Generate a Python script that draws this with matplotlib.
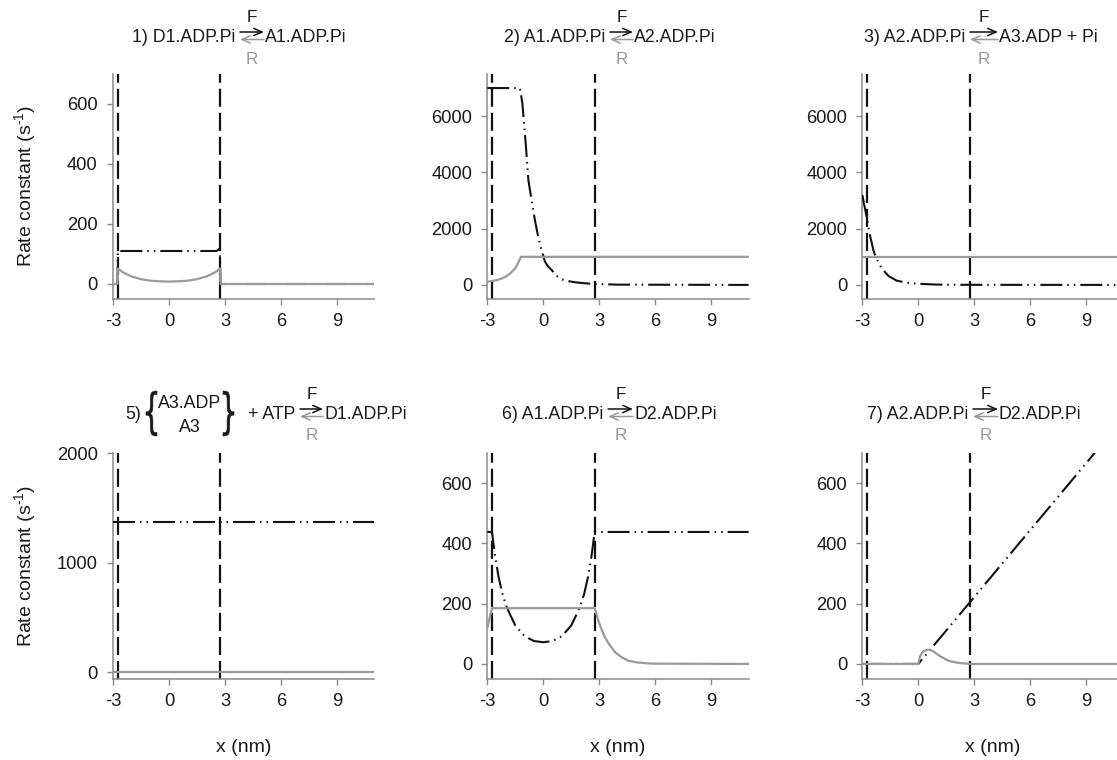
import matplotlib
matplotlib.use("Agg")
import matplotlib.pyplot as plt
from matplotlib.patches import FancyArrowPatch, PathPatch
from matplotlib.textpath import TextPath
from matplotlib.font_manager import FontProperties
from matplotlib.transforms import Affine2D, IdentityTransform

# ---------------------------------------------------------------------------
# Rate constants (s^-1) of forward (F) and reverse (R) transitions vs. x (nm)
# ---------------------------------------------------------------------------
x_limits = (-3, 11)
x_ticks = [-3, 0, 3, 6, 9]
binding_edges = [-2.75, 2.75]

# 1) D1.ADP.Pi <-> A1.ADP.Pi
r1_x_f = [-3, -2.76, -2.74, 2.55, 2.72, 2.76, 11]
r1_f = [0, 0, 110, 110, 118, 0, 0]
r1_x_r = [-3, -2.76, -2.74, -2.5, -2.25, -2.0, -1.5, -1.0, -0.5, 0,
          0.5, 1.0, 1.5, 2.0, 2.25, 2.5, 2.74, 2.76, 11]
r1_r = [0, 0, 52, 40, 32, 25, 16, 11, 9, 8,
        9, 11, 16, 25, 32, 40, 52, 0, 0]

# 2) A1.ADP.Pi <-> A2.ADP.Pi
r2_x_f = [-3, -1.25, -1.12, -0.95, -0.8, -0.6, -0.45, -0.3, -0.12, 0.09,
          0.25, 0.45, 0.7, 0.98, 1.3, 1.7, 2.2, 2.77, 4.0, 11]
r2_f = [7000, 7000, 6450, 5100, 3730, 2900, 2310, 1800, 1300, 830,
        660, 530, 330, 200, 140, 95, 60, 35, 10, 0]
r2_x_r = [-3, -2.75, -2.5, -2.25, -2.0, -1.75, -1.5, -1.35, -1.2, 11]
r2_r = [110, 140, 170, 220, 300, 420, 600, 780, 1000, 1000]

# 3) A2.ADP.Pi <-> A3.ADP + Pi
r3_x_f = [-3, -2.77, -2.6, -2.41, -2.29, -2.1, -1.96, -1.6, -1.16, -0.7,
          -0.35, 0.2, 0.7, 1.5, 11]
r3_f = [3200, 2425, 1800, 1245, 1005, 760, 590, 320, 153, 90,
        60, 35, 20, 5, 0]
r3_x_r = [-3, 11]
r3_r = [1000, 1000]

# 5) {A3.ADP, A3} + ATP <-> D1.ADP.Pi
r5_x_f = [-3, 11]
r5_f = [1370, 1370]
r5_x_r = [-3, 11]
r5_r = [0, 0]

# 6) A1.ADP.Pi <-> D2.ADP.Pi
r6_x_f = [-3, -2.75, -2.6, -2.4, -2.2, -2.0, -1.75, -1.5, -1.0, -0.5, 0,
          0.5, 1.0, 1.5, 1.75, 2.0, 2.2, 2.4, 2.6, 2.75, 11]
r6_f = [438, 438, 365, 290, 235, 195, 160, 128, 92, 76, 72,
        76, 92, 128, 160, 195, 235, 290, 365, 438, 438]
r6_x_r = [-3, -2.75, 2.75, 2.95, 3.1, 3.3, 3.5, 3.84, 4.2, 4.55, 5.0, 5.8, 11]
r6_r = [120, 185, 185, 144, 118, 89, 68, 39, 22, 11, 5, 1, 0]

# 7) A2.ADP.Pi <-> D2.ADP.Pi
r7_x_f = [-3, 0, 9.45]
r7_f = [0, 0, 700]
r7_x_r = [-3, 0, 0.1, 0.27, 0.45, 0.6, 0.8, 1.16, 1.45, 1.7, 2.2, 2.8, 11]
r7_r = [0, 0, 26, 42, 46, 47, 42, 26, 16, 9, 3, 0, 0]

# ---------------------------------------------------------------------------
W, H = 1117, 760
FONT = "Liberation Sans"
INK = "#1a1a1a"
BLACK = "#111111"
GREY = "#999999"
SPINE = "#8a8a8a"

plt.rcParams["font.family"] = [FONT, "DejaVu Sans"]
plt.rcParams["mathtext.fontset"] = "custom"
plt.rcParams["mathtext.rm"] = FONT
plt.rcParams["mathtext.it"] = FONT
plt.rcParams["mathtext.bf"] = FONT
plt.rcParams["lines.scale_dashes"] = False

fig = plt.figure(figsize=(W / 100, H / 100), dpi=100)
fig.patch.set_facecolor("white")

F_DASH = (0, (15.8, 3.6, 1.1, 3.6, 1.1, 3.6))
EDGE_DASH = (0, (13, 4.3))


def px_axes(left, top, width, height):
    return fig.add_axes([left / W, 1 - (top + height) / H, width / W, height / H])


def style_axes(ax, ylim, yticks):
    ax.set_xlim(*x_limits)
    ax.set_ylim(*ylim)
    ax.set_xticks(x_ticks)
    ax.set_xticklabels([str(t) for t in x_ticks])
    ax.set_yticks(yticks)
    ax.set_yticklabels([str(t) for t in yticks])
    for s in ("top", "right"):
        ax.spines[s].set_visible(False)
    for s in ("left", "bottom"):
        ax.spines[s].set_color(SPINE)
        ax.spines[s].set_linewidth(1.1)
    ax.tick_params(direction="out", length=4, width=1.0, color=SPINE,
                   labelsize=13.2, labelcolor=INK)
    ax.tick_params(axis="y", pad=7)
    ax.tick_params(axis="x", pad=6)
    ax.patch.set_alpha(0)


def draw_panel(ax, xf, f, xr, r):
    y0, y1 = ax.get_ylim()
    for xe in binding_edges:
        ax.plot([xe, xe], [y0, y1], color=BLACK, lw=1.6,
                linestyle=EDGE_DASH, zorder=2)
    ax.plot(xf, f, color=BLACK, lw=1.5, linestyle=F_DASH, zorder=3)
    ax.plot(xr, r, color=GREY, lw=1.6, zorder=4)


def fig_xy(x, y):
    return x / W, 1 - y / H


def arrow(x0, y0, x1, y1, color):
    a = FancyArrowPatch(fig_xy(x0, y0), fig_xy(x1, y1), transform=fig.transFigure,
                        arrowstyle="->,head_length=6,head_width=2.6",
                        mutation_scale=1, color=color, lw=1.1,
                        shrinkA=0, shrinkB=0)
    fig.add_artist(a)


def reaction(label_left, label_right, x0, x1, base):
    fs = 12.8
    fig.text(*fig_xy(x0 - 5, base), label_left, ha="right", va="baseline",
             fontsize=fs, color=INK)
    fig.text(*fig_xy(x1 + 1, base), label_right, ha="left", va="baseline",
             fontsize=fs, color=INK)
    arrow(x0, base - 10, x1, base - 10, BLACK)
    arrow(x1, base - 2.5, x0, base - 2.5, GREY)
    xm = (x0 + x1) / 2
    fig.text(*fig_xy(xm, base - 20.5), "F", ha="center", va="baseline",
             fontsize=12.3, color=INK)
    fig.text(*fig_xy(xm, base + 21.5), "R", ha="center", va="baseline",
             fontsize=12.3, color=GREY)


def brace(char, left, top, right, bottom):
    tp = TextPath((0, 0), char, size=50, prop=FontProperties(family="DejaVu Sans"))
    bb = tp.get_extents()
    sx = (right - left) / bb.width
    sy = (bottom - top) / bb.height
    tr = (Affine2D().translate(-bb.x0, -bb.y0).scale(sx, sy)
          .translate(left, H - bottom))
    fig.add_artist(PathPatch(tr.transform_path(tp), transform=IdentityTransform(),
                             facecolor=INK, edgecolor=INK, lw=0.4))


cols = [113, 487.3, 862.3]
width = 261.3
row_top = [74, 453]
row_h = [225, 226]

panels = [
    (0, 0, (-50, 700), [0, 200, 400, 600], r1_x_f, r1_f, r1_x_r, r1_r),
    (0, 1, (-500, 7500), [0, 2000, 4000, 6000], r2_x_f, r2_f, r2_x_r, r2_r),
    (0, 2, (-500, 7500), [0, 2000, 4000, 6000], r3_x_f, r3_f, r3_x_r, r3_r),
    (1, 0, (-60, 2000), [0, 1000, 2000], r5_x_f, r5_f, r5_x_r, r5_r),
    (1, 1, (-50, 700), [0, 200, 400, 600], r6_x_f, r6_f, r6_x_r, r6_r),
    (1, 2, (-50, 700), [0, 200, 400, 600], r7_x_f, r7_f, r7_x_r, r7_r),
]

for row, col, ylim, yt, xf, f, xr, r in panels:
    ax = px_axes(cols[col], row_top[row], width, row_h[row])
    style_axes(ax, ylim, yt)
    draw_panel(ax, xf, f, xr, r)

# axis labels
for yc in (186, 566):
    fig.text(*fig_xy(25, yc), r"Rate constant (s$^{\text{-1}}$)", rotation=90,
             ha="center", va="center", fontsize=14, color=INK)
for c in cols:
    fig.text(*fig_xy(c + width / 2, 748), "x (nm)", ha="center", va="center",
             fontsize=14, color=INK)

# reaction schemes above each panel
reaction("1) D1.ADP.Pi", "A1.ADP.Pi", 240, 264, 42)
reaction("2) A1.ADP.Pi", "A2.ADP.Pi", 610, 633, 42)
reaction("3) A2.ADP.Pi", "A3.ADP + Pi", 970, 998, 42)
reaction("6) A1.ADP.Pi", "D2.ADP.Pi", 608, 633, 419)
reaction("7) A2.ADP.Pi", "D2.ADP.Pi", 973, 998, 419)

# 5) with the braced pair of reactants
reaction("+ ATP", "D1.ADP.Pi", 300, 323, 419)
fig.text(*fig_xy(141, 419), "5)", ha="right", va="baseline", fontsize=12.8,
         color=INK)
brace("{", 146, 391, 157, 436)
brace("}", 223, 391, 234, 436)
fig.text(*fig_xy(190, 408), "A3.ADP", ha="center", va="baseline",
         fontsize=12.8, color=INK)
fig.text(*fig_xy(190, 431.5), "A3", ha="center", va="baseline",
         fontsize=12.8, color=INK)

fig.savefig("out.png", dpi=100, facecolor="white")
